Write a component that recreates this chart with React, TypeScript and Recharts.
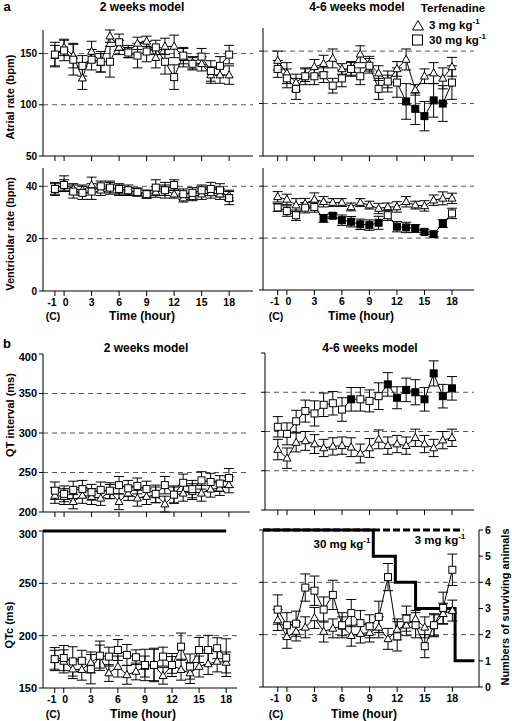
import React from 'react';
import { LineChart, Line, XAxis, YAxis, ReferenceLine, ErrorBar } from 'recharts';

const hours = [-1, 0, 1, 2, 3, 4, 5, 6, 7, 8, 9, 10, 11, 12, 13, 14, 15, 16, 17, 18];
const hourTicks = [-1, 0, 3, 6, 9, 12, 15, 18];

// a, 2 weeks model
const atrial2wTri = [148, 156, 148, 126, 152, 141, 167, 156, 152, 160, 162, 146, 157, 157, 146, 141, 140, 129, 129, 129];
const atrial2wTriErr = [10, 8, 12, 11, 10, 9, 6, 7, 6, 6, 5, 10, 8, 11, 9, 6, 7, 8, 8, 9];
const atrial2wSq = [149, 153, 144, 138, 144, 142, 142, 161, 151, 148, 152, 156, 142, 127, 148, 140, 147, 133, 138, 149];
const atrial2wSqErr = [12, 10, 15, 10, 10, 10, 15, 8, 5, 12, 10, 7, 12, 12, 8, 6, 8, 10, 9, 9];

const vent2wTri = [39, 41, 39, 38.5, 40.5, 38.5, 39.5, 38.5, 38, 37.8, 37, 37.8, 38.5, 37, 35.5, 36, 37, 37.5, 37, 36.5];
const vent2wTriErr = [2, 3, 2, 2, 3, 2, 2, 2, 1.5, 1.5, 1.5, 2, 2, 1.5, 1.5, 1.5, 2, 2, 2, 2];
const vent2wSq = [39, 40.5, 38, 37.5, 38, 40, 39.5, 39, 38.5, 37.8, 37, 39.5, 38.5, 40.5, 37, 37.5, 38.5, 39, 38.5, 35.5];
const vent2wSqErr = [2.5, 2, 2.5, 2.5, 3, 2, 2.5, 2, 2, 1.5, 1.5, 3, 3, 2, 2, 2, 2, 2.5, 2.5, 2.5];

// a, 4-6 weeks model
const atrial46Tri = [141, 129, 120, 127, 135, 138, 143, 133, 133, 147, 138, 129, 121, 133, 142, 113, 126, 129, 124, 135];
const atrial46TriErr = [9, 10, 8, 6, 7, 8, 9, 5, 6, 8, 7, 7, 6, 7, 10, 5, 7, 10, 10, 9];
const atrial46Sq = [133, 124, 114, 126, 126, 127, 117, 124, 133, 126, 136, 114, 121, 120, 102, 95, 88, 103, 100, 120];
const atrial46SqErr = [8, 9, 10, 8, 8, 7, 7, 8, 7, 8, 7, 10, 10, 14, 17, 15, 14, 16, 17, 16];
const atrial46Filled = [13, 14, 15, 16, 17];

const vent46Tri = [35.9, 34.9, 32.7, 33.3, 34.9, 34, 33.7, 33.7, 32, 33.7, 32.7, 31.4, 32, 32, 34, 32.7, 32.4, 34.6, 35.3, 35.3];
const vent46TriErr = [2, 2, 2.5, 2, 2.5, 2, 1.5, 1.5, 1.5, 1.5, 1.5, 2, 1.5, 2, 2, 1.5, 2, 2, 2.5, 2];
const vent46Sq = [31.8, 30.4, 28.8, 31.7, 32, 27.6, 28.6, 26.9, 26.3, 25.3, 25, 25.9, 28.8, 24.4, 24.1, 23.7, 22.4, 21.5, 25.6, 29.5];
const vent46SqErr = [1.5, 2, 2, 2, 2, 1.5, 1, 2, 2, 2, 2, 2.5, 2, 2, 2, 1.5, 1, 1, 1.5, 2];
const vent46Filled = [4, 5, 6, 7, 8, 9, 10, 12, 13, 14, 15, 16, 17];

// b, 2 weeks model
const qt2wTri = [221, 219.5, 213, 221, 219.5, 217.4, 225.8, 213, 223.7, 217.4, 219.5, 221.6, 210, 221.6, 223.7, 225.8, 223.7, 228.8, 230, 234.3];
const qt2wTriErr = [10, 10, 9, 10, 10, 9, 9, 10, 9, 10, 10, 10, 10, 10, 10, 10, 10, 10, 9, 10];
const qt2wSq = [227, 223, 228, 229, 225, 228, 227, 234, 230, 233, 229, 223, 234, 222, 237, 229, 240, 238, 236, 243];
const qt2wSqErr = [11, 10, 11, 11, 10, 10, 10, 11, 10, 10, 10, 11, 11, 11, 11, 11, 11, 11, 10, 12];

const qtc2wTri = [177, 175.4, 168, 167.5, 174.4, 180, 164.3, 170.5, 162.6, 165.8, 170.5, 172, 161.7, 172, 167.5, 164.3, 170.5, 173, 175.4, 174.4];
const qtc2wTriErr = [9, 11, 9, 10, 10, 11, 8, 10, 9, 8, 10, 15, 8, 8, 10, 10, 10, 10, 10, 10];
const qtc2wSq = [177.6, 178.6, 175.4, 176, 168, 180.8, 180, 186.3, 181.6, 179.4, 172, 172, 180, 172, 189.5, 170.5, 186.3, 186.3, 188, 179];
const qtc2wSqErr = [11, 12, 14, 10, 14, 14, 9, 10, 10, 7, 15, 16, 9, 11, 13, 12, 12, 14, 10, 18];

// b, 4-6 weeks model
const qt46Tri = [277, 266, 286, 288, 284, 279, 281, 282, 280, 272, 279, 290, 282, 284, 282, 292, 284, 279, 289, 292];
const qt46TriErr = [13, 13, 12, 12, 12, 11, 11, 11, 12, 12, 12, 12, 11, 11, 11, 11, 11, 11, 11, 11];
const qt46Sq = [306, 297, 313, 326, 323, 334, 336, 328, 341, 341, 339, 345, 360, 343, 353, 350, 341, 374, 345, 355];
const qt46SqErr = [13, 14, 14, 14, 16, 15, 15, 15, 15, 15, 14, 17, 15, 14, 15, 16, 15, 16, 15, 15];
const qt46Filled = [7, 11, 12, 13, 14, 15, 16, 17, 18];

const qtc46Tri = [214, 198, 203, 207, 216, 203, 206, 208, 199, 201, 202, 207, 196, 205, 209, 215, 207, 209, 220, 223];
const qtc46TriErr = [10, 11, 9, 10, 10, 10, 9, 9, 10, 9, 9, 10, 10, 10, 10, 8, 10, 10, 10, 10];
const qtc46Sq = [224, 209, 210.5, 245, 242, 224, 238, 209, 220.6, 211, 208, 217, 255, 198.4, 215.3, 209, 189, 209, 225.6, 262];
const qtc46SqErr = [14, 12, 12, 13, 14, 12, 14, 12, 13, 12, 11, 15, 13, 14, 12, 12, 11, 11, 15, 15];

// surviving animals (step lines)
const surv2wHours = [-2.3, 18];
const surv2wCount = [6, 6];
const surv3Hours = [-2.6, 19.2];
const surv3Count = [6, 6];
const surv30Hours = [-2.6, 9.4, 11.8, 14, 18.3, 20.4];
const surv30Count = [6, 5, 4, 3, 1, 1];

const FONT = '"Liberation Sans", Arial, sans-serif';
const YW = 40;
const TOPM = 6;

const rows = (tri: number[], triErr: number[], sq: number[], sqErr: number[], filled: number[] = []) =>
    hours.map((h, i) => ({ h, tri: tri[i], triErr: triErr[i], sq: sq[i], sqErr: sqErr[i], solid: filled.includes(h) }));

const steps = (hs: number[], ns: number[]) => hs.map((h, i) => ({ h, n: ns[i] }));

const TriDot = (p: any) => {
    const { cx, cy, index } = p;
    if (cx == null || cy == null) return <g key={`t${index}`} />;
    return <path key={`t${index}`} d={`M${cx},${cy - 4.3}L${cx + 4},${cy + 2.8}L${cx - 4},${cy + 2.8}Z`} fill="#fff" stroke="#000" strokeWidth={1} />;
};

const SqDot = (p: any) => {
    const { cx, cy, index, payload } = p;
    if (cx == null || cy == null) return <g key={`s${index}`} />;
    return <rect key={`s${index}`} x={cx - 3.5} y={cy - 3.5} width={7} height={7} fill={payload.solid ? '#000' : '#fff'} stroke="#000" strokeWidth={1} />;
};

// x tick labels; the control (-1) label sits a little to the left as in the figure
const makeXTick = (show: boolean) => (p: any) => {
    const { x, y, payload } = p;
    if (!show) return <g />;
    const dx = payload.value === -1 ? -3 : payload.value === 0 ? 1.5 : 0;
    return (
        <text x={x + dx} y={y} dy="0.8em" textAnchor="middle" fontSize={10.5} fontWeight="bold" fill="#000">{payload.value}</text>
    );
};

const makeYTick = (show: boolean, size: number) => (p: any) => {
    const { x, y, payload } = p;
    if (!show) return <g />;
    return (
        <text x={x} y={y} dy="0.35em" textAnchor="end" fontSize={size} fontWeight="bold" fill="#000">{payload.value}</text>
    );
};

interface PanelProps {
    left: number; top: number; w: number; h: number;
    xDomain: [number, number]; yDomain: [number, number];
    yTicks: number[]; dashes: number[];
    data: any[]; xLabels?: boolean; yLabels?: boolean; tickFont?: number;
    survSolid?: any[]; survDashed?: any[]; rightAxis?: boolean;
}

const Panel: React.FC<PanelProps> = ({ left, top, w, h, xDomain, yDomain, yTicks, dashes, data, xLabels = false, yLabels = true, tickFont = 10, survSolid, survDashed, rightAxis = false }) => {
    const XH = xLabels ? 22 : 10;
    const RW = rightAxis ? 28 : 6;
    return (
        <div style={{ position: 'absolute', left: left - YW, top: top - TOPM }}>
            <LineChart width={YW + w + RW} height={TOPM + h + XH} data={data}
                margin={{ top: TOPM, right: rightAxis ? 0 : 6, bottom: 0, left: 0 }}>
                <XAxis type="number" dataKey="h" domain={xDomain} ticks={hourTicks} interval={0}
                    height={XH} tickSize={5} axisLine={{ stroke: '#000' }} tickLine={{ stroke: '#000' }}
                    tick={makeXTick(xLabels)} />
                <YAxis yAxisId="main" type="number" domain={yDomain} ticks={yTicks} width={YW}
                    tickSize={4} axisLine={{ stroke: '#000' }} tickLine={{ stroke: '#000' }}
                    tick={makeYTick(yLabels, tickFont)} />
                <YAxis yAxisId="surv" orientation="right" type="number" domain={[0, 6]} ticks={[0, 1, 2, 3, 4, 5, 6]}
                    width={RW} hide={!rightAxis} tickSize={4}
                    axisLine={{ stroke: '#000' }} tickLine={{ stroke: '#000' }}
                    tick={{ fontSize: 10.5, fontWeight: 'bold', fill: '#000' }} />
                {dashes.map(v => (
                    <ReferenceLine key={v} yAxisId="main" y={v} stroke="#555" strokeDasharray="5 4" strokeWidth={1} />
                ))}
                {survDashed && (
                    <Line yAxisId="surv" data={survDashed} dataKey="n" type="linear" stroke="#000" strokeWidth={3}
                        strokeDasharray="7 3" dot={false} activeDot={false} isAnimationActive={false} />
                )}
                {survSolid && (
                    <Line yAxisId="surv" data={survSolid} dataKey="n" type="stepAfter" stroke="#000" strokeWidth={3}
                        dot={false} activeDot={false} isAnimationActive={false} />
                )}
                <Line yAxisId="main" dataKey="tri" type="linear" stroke="#000" strokeWidth={1} dot={TriDot} activeDot={false} isAnimationActive={false}>
                    <ErrorBar dataKey="triErr" width={5} stroke="#000" strokeWidth={1} />
                </Line>
                <Line yAxisId="main" dataKey="sq" type="linear" stroke="#000" strokeWidth={1} dot={SqDot} activeDot={false} isAnimationActive={false}>
                    <ErrorBar dataKey="sqErr" width={5} stroke="#000" strokeWidth={1} />
                </Line>
            </LineChart>
        </div>
    );
};

const T: React.FC<{ x: number; y: number; size?: number; rotate?: number; align?: 'center' | 'left'; children: React.ReactNode }> = ({ x, y, size = 11, rotate = 0, align = 'center', children }) => (
    <div style={{
        position: 'absolute', left: x, top: y, whiteSpace: 'nowrap', fontSize: size, fontWeight: 'bold', lineHeight: 1,
        transform: `translate(${align === 'center' ? '-50%' : '0'}, -50%) rotate(${rotate}deg)`,
    }}>{children}</div>
);

const Kg: React.FC<{ dose: string }> = ({ dose }) => (
    <span>{dose} mg kg<sup style={{ fontSize: '0.7em', verticalAlign: 'super', lineHeight: 0 }}>-1</sup></span>
);

export default function App() {
    const leftX: [number, number] = [-2.3, 20.6];
    const rightX: [number, number] = [-2.6, 20.4];
    return (
        <div style={{ position: 'absolute', left: 0, top: 0, width: 512, height: 721, background: '#fff', fontFamily: FONT, color: '#000', overflow: 'hidden' }}>
            <Panel left={43} top={30} w={210} h={126} xDomain={leftX} yDomain={[50, 170]} yTicks={[50, 100, 150]} dashes={[100, 150]}
                data={rows(atrial2wTri, atrial2wTriErr, atrial2wSq, atrial2wSqErr)} />
            <Panel left={43} top={168} w={210} h={123} xDomain={leftX} yDomain={[0, 47]} yTicks={[0, 20, 40]} dashes={[20, 40]}
                data={rows(vent2wTri, vent2wTriErr, vent2wSq, vent2wSqErr)} xLabels />
            <Panel left={263} top={28} w={211} h={128} xDomain={rightX} yDomain={[50, 172]} yTicks={[50, 100, 150]} dashes={[100, 150]}
                data={rows(atrial46Tri, atrial46TriErr, atrial46Sq, atrial46SqErr, atrial46Filled)} yLabels={false} />
            <Panel left={263} top={168} w={211} h={122} xDomain={rightX} yDomain={[0, 47]} yTicks={[0, 20, 40]} dashes={[20, 40]}
                data={rows(vent46Tri, vent46TriErr, vent46Sq, vent46SqErr, vent46Filled)} xLabels yLabels={false} />

            <Panel left={43} top={354} w={207} h={158} xDomain={[-2.3, 20.3]} yDomain={[200, 400]} yTicks={[200, 250, 300, 350, 400]} dashes={[250, 300, 350]}
                data={rows(qt2wTri, qt2wTriErr, qt2wSq, qt2wSqErr)} tickFont={11} />
            <Panel left={43} top={531} w={194} h={157} xDomain={[-2.3, 19.2]} yDomain={[150, 300]} yTicks={[150, 200, 250, 300]} dashes={[200, 250]}
                data={rows(qtc2wTri, qtc2wTriErr, qtc2wSq, qtc2wSqErr)} xLabels tickFont={11}
                survSolid={steps(surv2wHours, surv2wCount)} />
            <Panel left={265} top={353} w={209} h={157} xDomain={[-2.4, 20.4]} yDomain={[200, 400]} yTicks={[200, 250, 300, 350, 400]} dashes={[250, 300, 350]}
                data={rows(qt46Tri, qt46TriErr, qt46Sq, qt46SqErr, qt46Filled)} yLabels={false} />
            <Panel left={263} top={530} w={216} h={157} xDomain={[-2.6, 20.9]} yDomain={[150, 300]} yTicks={[150, 200, 250, 300]} dashes={[200, 250]}
                data={rows(qtc46Tri, qtc46TriErr, qtc46Sq, qtc46SqErr)} xLabels yLabels={false} rightAxis
                survSolid={steps(surv30Hours, surv30Count)} survDashed={steps(surv3Hours, surv3Count)} />

            <T x={7} y={6} size={13}>a</T>
            <T x={142} y={7} size={12}>2 weeks model</T>
            <T x={357} y={7} size={12}>4-6 weeks model</T>
            <T x={453} y={9} size={11.5}>Terfenadine</T>
            <svg style={{ position: 'absolute', left: 411, top: 19 }} width={14} height={28}>
                <path d="M7,1.5L12.5,11L1.5,11Z" fill="#fff" stroke="#000" strokeWidth={1} />
                <rect x={1.5} y={16} width={10} height={10} fill="#fff" stroke="#000" strokeWidth={1} />
            </svg>
            <T x={429} y={26} size={11.5} align="left"><Kg dose="3" /></T>
            <T x={429} y={41} size={11.5} align="left"><Kg dose="30" /></T>

            <T x={10} y={97} rotate={-90}>Atrial rate (bpm)</T>
            <T x={10} y={234} rotate={-90}>Ventricular rate (bpm)</T>
            <T x={53} y={316} size={10.5}>(C)</T>
            <T x={142} y={316} size={12}>Time (hour)</T>
            <T x={276} y={316} size={10.5}>(C)</T>
            <T x={361} y={316} size={12}>Time (hour)</T>

            <T x={7} y={343} size={13}>b</T>
            <T x={146} y={348} size={12}>2 weeks model</T>
            <T x={370} y={348} size={12}>4-6 weeks model</T>
            <T x={10} y={415} rotate={-90}>QT interval (ms)</T>
            <T x={9} y={625} rotate={-90}>QTc (ms)</T>
            <T x={505} y={607} rotate={-90}>Numbers of surviving animals</T>
            <T x={342} y={545} size={11.5}><Kg dose="30" /></T>
            <T x={440} y={541} size={11.5}><Kg dose="3" /></T>
            <T x={53} y={714} size={10.5}>(C)</T>
            <T x={143} y={714} size={12}>Time (hour)</T>
            <T x={276} y={714} size={10.5}>(C)</T>
            <T x={364} y={714} size={12}>Time (hour)</T>
        </div>
    );
}
